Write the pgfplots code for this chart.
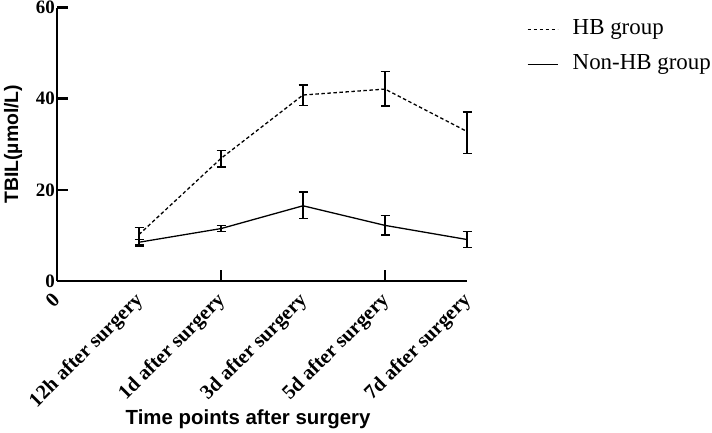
\documentclass[border=0pt]{standalone}
\usepackage{fontspec}
\setmainfont{Liberation Serif}
\setsansfont{Liberation Sans}
\usepackage{pgfplots}
\pgfplotsset{compat=1.18}
\begin{document}
\begin{tikzpicture}
\useasboundingbox (0,0) rectangle (712bp,433bp);
\begin{axis}[
  at={(57bp,152bp)}, anchor=south west,
  scale only axis, width=410bp, height=273.5bp,
  xmin=0, xmax=5, ymin=0, ymax=60,
  axis x line=bottom, axis y line=left,
  axis line style={-, line width=2.5bp},
  xtick={0,2,4},
  xticklabels={0,1d after surgery,5d after surgery},
  extra x ticks={1,3,5},
  extra x tick labels={12h after surgery,3d after surgery,7d after surgery},
  extra x tick style={major tick length=0pt},
  x tick label style={rotate=45, anchor=north east, font=\bfseries\fontsize{20.5}{20.5}\selectfont, inner sep=2bp, xshift=-9bp, yshift=-1bp},
  ytick={0,20,40,60},
  y tick label style={font=\bfseries\fontsize{19}{19}\selectfont, inner sep=2bp},
  tick style={line width=2.5bp, black},
  tick align=inside, major tick length=11bp,
  /pgf/number format/assume math mode=true,
  xlabel={Time points after surgery},
  xlabel style={at={(axis description cs:0.466,-0.5265)}, anchor=base, font=\sffamily\bfseries\fontsize{20.5}{20.5}\selectfont},
  ylabel={TBIL(µmol/L)},
  ylabel style={at={(axis description cs:-0.107,0.5)}, anchor=center, font=\sffamily\bfseries\fontsize{19.5}{19.5}\selectfont},
  legend style={at={(axis description cs:1.146,0.97)}, anchor=north west, draw=none, fill=none,
    font=\fontsize{23}{23}\selectfont, row sep=8bp, inner sep=0pt,
    nodes={text height=16bp, text depth=5bp, inner sep=3bp}},
  legend cell align=left,
  legend image code/.code={\draw[#1] (0bp,0bp) -- (30bp,0bp); \path[draw=none] (0bp,0bp) -- (42bp,0bp);},
  clip=false,
]
\addplot[black, line width=1.3bp, dash pattern=on 3.5bp off 2.5bp,
  error bars/.cd, y dir=both, y explicit,
  error bar style={solid, line width=1.3bp},
  error mark options={rotate=90, mark size=4.5bp, line width=1.3bp, solid}]
coordinates {
(1,10.2) += (0,1.6) -= (0,2.3)
(2,26.9) += (0,1.7) -= (0,1.9)
(3,40.8) += (0,2.2) -= (0,2.3)
(4,42.1) += (0,3.8) -= (0,3.7)
(5,32.8) += (0,4.3) -= (0,4.8)
};
\addlegendentry{HB group}
\addplot[black, line width=1.3bp, solid,
  error bars/.cd, y dir=both, y explicit,
  error bar style={solid, line width=1.3bp},
  error mark options={rotate=90, mark size=4.5bp, line width=1.3bp, solid}]
coordinates {
(1,8.5) += (0,0.6) -= (0,0.8)
(2,11.5) += (0,0.6) -= (0,0.7)
(3,16.5) += (0,3.0) -= (0,2.8)
(4,12.2) += (0,2.1) -= (0,2.1)
(5,9.1) += (0,1.8) -= (0,1.8)
};
\addlegendentry{Non-HB group}
\end{axis}
\end{tikzpicture}
\end{document}
